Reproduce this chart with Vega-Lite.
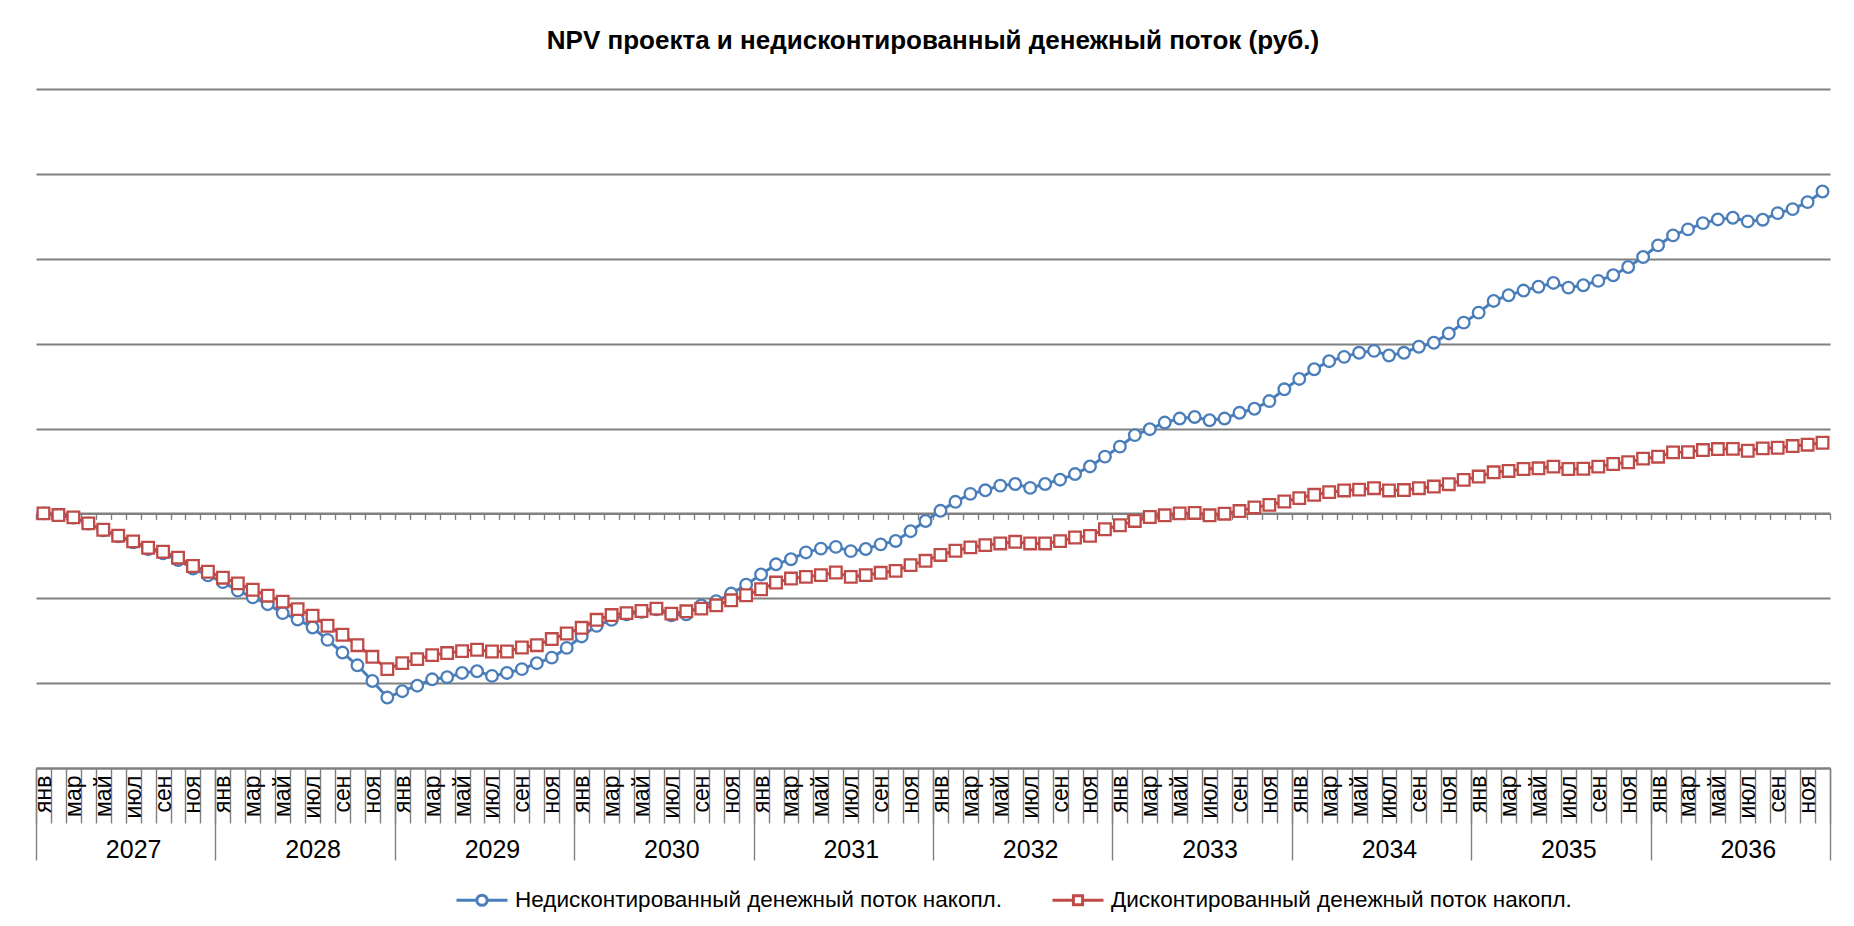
{
  "$schema": "https://vega.github.io/schema/vega-lite/v6.json",
  "width": 1794,
  "height": 679,
  "autosize": {"type": "none"},
  "padding": {"left": 36, "top": 89, "right": 24, "bottom": 158},
  "background": "white",
  "config": {"view": {"stroke": null}, "font": "Liberation Sans"},
  "title": {"text": "NPV проекта и недисконтированный денежный поток (руб.)", "fontSize": 26, "fontWeight": "bold", "font": "Liberation Sans", "color": "#000000", "anchor": "middle", "baseline": "alphabetic", "offset": 14},
  "data": {"values": [
    {"k":"2027-01","u":0,"d":0},
    {"k":"2027-02","u":-0.02,"d":-0.02},
    {"k":"2027-03","u":-0.05,"d":-0.047},
    {"k":"2027-04","u":-0.12,"d":-0.118},
    {"k":"2027-05","u":-0.2,"d":-0.193},
    {"k":"2027-06","u":-0.27,"d":-0.263},
    {"k":"2027-07","u":-0.34,"d":-0.33},
    {"k":"2027-08","u":-0.42,"d":-0.405},
    {"k":"2027-09","u":-0.47,"d":-0.452},
    {"k":"2027-10","u":-0.55,"d":-0.522},
    {"k":"2027-11","u":-0.65,"d":-0.62},
    {"k":"2027-12","u":-0.73,"d":-0.688},
    {"k":"2028-01","u":-0.81,"d":-0.758},
    {"k":"2028-02","u":-0.91,"d":-0.825},
    {"k":"2028-03","u":-0.99,"d":-0.9},
    {"k":"2028-04","u":-1.07,"d":-0.97},
    {"k":"2028-05","u":-1.175,"d":-1.04},
    {"k":"2028-06","u":-1.25,"d":-1.128},
    {"k":"2028-07","u":-1.345,"d":-1.206},
    {"k":"2028-08","u":-1.49,"d":-1.324},
    {"k":"2028-09","u":-1.64,"d":-1.43},
    {"k":"2028-10","u":-1.79,"d":-1.553},
    {"k":"2028-11","u":-1.975,"d":-1.69},
    {"k":"2028-12","u":-2.17,"d":-1.835},
    {"k":"2029-01","u":-2.095,"d":-1.764},
    {"k":"2029-02","u":-2.03,"d":-1.717},
    {"k":"2029-03","u":-1.955,"d":-1.67},
    {"k":"2029-04","u":-1.93,"d":-1.646},
    {"k":"2029-05","u":-1.88,"d":-1.623},
    {"k":"2029-06","u":-1.86,"d":-1.607},
    {"k":"2029-07","u":-1.915,"d":-1.627},
    {"k":"2029-08","u":-1.88,"d":-1.627},
    {"k":"2029-09","u":-1.835,"d":-1.58},
    {"k":"2029-10","u":-1.765,"d":-1.553},
    {"k":"2029-11","u":-1.7,"d":-1.481},
    {"k":"2029-12","u":-1.585,"d":-1.415},
    {"k":"2030-01","u":-1.45,"d":-1.348},
    {"k":"2030-02","u":-1.325,"d":-1.254},
    {"k":"2030-03","u":-1.255,"d":-1.198},
    {"k":"2030-04","u":-1.19,"d":-1.175},
    {"k":"2030-05","u":-1.16,"d":-1.15},
    {"k":"2030-06","u":-1.13,"d":-1.122},
    {"k":"2030-07","u":-1.2,"d":-1.181},
    {"k":"2030-08","u":-1.19,"d":-1.154},
    {"k":"2030-09","u":-1.085,"d":-1.122},
    {"k":"2030-10","u":-1.035,"d":-1.083},
    {"k":"2030-11","u":-0.945,"d":-1.024},
    {"k":"2030-12","u":-0.84,"d":-0.965},
    {"k":"2031-01","u":-0.72,"d":-0.894},
    {"k":"2031-02","u":-0.6,"d":-0.815},
    {"k":"2031-03","u":-0.54,"d":-0.768},
    {"k":"2031-04","u":-0.46,"d":-0.748},
    {"k":"2031-05","u":-0.415,"d":-0.728},
    {"k":"2031-06","u":-0.395,"d":-0.697},
    {"k":"2031-07","u":-0.445,"d":-0.748},
    {"k":"2031-08","u":-0.42,"d":-0.728},
    {"k":"2031-09","u":-0.365,"d":-0.7},
    {"k":"2031-10","u":-0.325,"d":-0.677},
    {"k":"2031-11","u":-0.21,"d":-0.61},
    {"k":"2031-12","u":-0.09,"d":-0.559},
    {"k":"2032-01","u":0.03,"d":-0.49},
    {"k":"2032-02","u":0.136,"d":-0.44},
    {"k":"2032-03","u":0.23,"d":-0.401},
    {"k":"2032-04","u":0.272,"d":-0.374},
    {"k":"2032-05","u":0.327,"d":-0.354},
    {"k":"2032-06","u":0.346,"d":-0.335},
    {"k":"2032-07","u":0.3,"d":-0.354},
    {"k":"2032-08","u":0.346,"d":-0.354},
    {"k":"2032-09","u":0.397,"d":-0.327},
    {"k":"2032-10","u":0.463,"d":-0.284},
    {"k":"2032-11","u":0.553,"d":-0.265},
    {"k":"2032-12","u":0.669,"d":-0.187},
    {"k":"2033-01","u":0.786,"d":-0.14},
    {"k":"2033-02","u":0.922,"d":-0.089},
    {"k":"2033-03","u":0.992,"d":-0.043},
    {"k":"2033-04","u":1.07,"d":-0.023},
    {"k":"2033-05","u":1.117,"d":0.0},
    {"k":"2033-06","u":1.136,"d":0.005},
    {"k":"2033-07","u":1.097,"d":-0.023},
    {"k":"2033-08","u":1.117,"d":-0.004},
    {"k":"2033-09","u":1.185,"d":0.027},
    {"k":"2033-10","u":1.233,"d":0.07},
    {"k":"2033-11","u":1.323,"d":0.1},
    {"k":"2033-12","u":1.462,"d":0.14},
    {"k":"2034-01","u":1.584,"d":0.18},
    {"k":"2034-02","u":1.698,"d":0.219},
    {"k":"2034-03","u":1.793,"d":0.25},
    {"k":"2034-04","u":1.844,"d":0.27},
    {"k":"2034-05","u":1.892,"d":0.28},
    {"k":"2034-06","u":1.915,"d":0.297},
    {"k":"2034-07","u":1.86,"d":0.27},
    {"k":"2034-08","u":1.892,"d":0.275},
    {"k":"2034-09","u":1.963,"d":0.297},
    {"k":"2034-10","u":2.01,"d":0.316},
    {"k":"2034-11","u":2.12,"d":0.344},
    {"k":"2034-12","u":2.247,"d":0.395},
    {"k":"2035-01","u":2.365,"d":0.434},
    {"k":"2035-02","u":2.503,"d":0.484},
    {"k":"2035-03","u":2.57,"d":0.5},
    {"k":"2035-04","u":2.625,"d":0.523},
    {"k":"2035-05","u":2.67,"d":0.531},
    {"k":"2035-06","u":2.715,"d":0.551},
    {"k":"2035-07","u":2.66,"d":0.523},
    {"k":"2035-08","u":2.688,"d":0.526},
    {"k":"2035-09","u":2.739,"d":0.551},
    {"k":"2035-10","u":2.806,"d":0.582},
    {"k":"2035-11","u":2.903,"d":0.602},
    {"k":"2035-12","u":3.021,"d":0.645},
    {"k":"2036-01","u":3.158,"d":0.668},
    {"k":"2036-02","u":3.275,"d":0.719},
    {"k":"2036-03","u":3.346,"d":0.722},
    {"k":"2036-04","u":3.42,"d":0.746},
    {"k":"2036-05","u":3.463,"d":0.758},
    {"k":"2036-06","u":3.483,"d":0.76},
    {"k":"2036-07","u":3.44,"d":0.738},
    {"k":"2036-08","u":3.46,"d":0.766},
    {"k":"2036-09","u":3.538,"d":0.773},
    {"k":"2036-10","u":3.585,"d":0.793},
    {"k":"2036-11","u":3.667,"d":0.809},
    {"k":"2036-12","u":3.792,"d":0.832}
  ]},
  "transform": [{"fold": ["u", "d"], "as": ["s", "v"]}],
  "encoding": {
    "y": {"field": "v", "type": "quantitative",
      "scale": {"domain": [-3, 5], "nice": false, "zero": false},
      "axis": {"values": [-3, -2, -1, 0, 1, 2, 3, 4, 5], "grid": true, "gridColor": "#808080", "gridWidth": 2, "labels": false, "ticks": false, "domain": false, "title": null}}
  },
  "layer": [
    {
      "mark": {"type": "line", "strokeWidth": 3},
      "encoding": {
        "x": {"field": "k", "type": "ordinal",
          "scale": {"type": "band", "paddingInner": 0, "paddingOuter": 0},
          "axis": {"orient": "bottom", "title": null, "grid": false, "domain": true, "domainColor": "#808080", "domainWidth": 2,
            "tickBand": "extent", "ticks": true, "tickSize": 55, "tickColor": "#808080", "tickWidth": 1.4,
            "labelAngle": 270, "labelAlign": "right", "labelBaseline": "middle", "labelPadding": -48,
            "labelFontSize": 23, "labelFont": "Liberation Sans", "labelColor": "#000000", "labelOverlap": false,
            "labelExpr": "datum.extra ? '' : ['янв','','мар','','май','','июл','','сен','','ноя',''][toNumber(substring(datum.value,5,7))-1]"}},
        "color": {"field": "s", "type": "nominal", "scale": {"domain": ["u", "d"], "range": ["#4A7EBB", "#BE4B48"]}, "legend": null}
      }
    },
    {
      "mark": {"type": "point", "filled": true, "fill": "white", "strokeWidth": 2.3, "size": 135, "opacity": 1},
      "encoding": {
        "x": {"field": "k", "type": "ordinal",
          "scale": {"type": "band", "paddingInner": 0, "paddingOuter": 0},
          "axis": {"orient": "bottom", "title": null, "grid": false, "domain": false,
            "tickBand": "extent", "ticks": true, "tickSize": 92, "tickColor": "#808080", "tickWidth": 1.4,
            "tickOpacity": {"condition": {"test": "datum.extra || substring(datum.value,5,7)=='12'", "value": 1}, "value": 0},
            "labelAngle": 0, "labelAlign": "center", "labelBaseline": "middle", "labelPadding": -11, "labelDx": -7.475,
            "labelFontSize": 25, "labelFont": "Liberation Sans", "labelColor": "#000000", "labelOverlap": false,
            "labelExpr": "datum.extra ? '' : (substring(datum.value,5,7)=='07' ? substring(datum.value,0,4) : '')"}},
        "stroke": {"field": "s", "type": "nominal", "scale": {"domain": ["u", "d"], "range": ["#4A7EBB", "#BE4B48"]}, "legend": null},
        "shape": {"field": "s", "type": "nominal", "scale": {"domain": ["u", "d"], "range": ["circle", "square"]}, "legend": null},
        "order": {"field": "s", "sort": "descending"}
      }
    },
    {
      "mark": {"type": "point", "filled": true, "fill": "white", "strokeWidth": 3, "opacity": 0},
      "encoding": {
        "x": {"field": "k", "type": "ordinal",
          "scale": {"type": "band", "paddingInner": 0, "paddingOuter": 0},
          "axis": {"orient": "bottom", "offset": -254.625, "title": null, "grid": false, "labels": false,
            "domain": true, "domainColor": "#808080", "domainWidth": 2,
            "tickBand": "extent", "ticks": true, "tickSize": 6, "tickColor": "#808080", "tickWidth": 1.4}},
        "stroke": {"field": "s", "type": "nominal", "scale": {"domain": ["u", "d"], "range": ["#4A7EBB", "#BE4B48"]},
          "legend": {"orient": "none", "legendX": 419, "legendY": 784, "direction": "horizontal", "title": null, "padding": 0,
            "labelExpr": "datum.value == 'u' ? 'Недисконтированный денежный поток накопл.' : 'Дисконтированный денежный поток накопл.'",
            "labelFontSize": 22.5, "labelFont": "Liberation Sans", "labelColor": "#000000", "labelLimit": 900, "labelOffset": 6,
            "symbolSize": 2601, "symbolStrokeWidth": 3, "columnPadding": 44, "symbolOpacity": 1, "symbolFillColor": "white",
            "encode": {"symbols": {"update": {"opacity": {"value": 1}, "fill": {"value": "white"}, "strokeWidth": {"value": 3}}}}}},
        "shape": {"field": "s", "type": "nominal",
          "scale": {"domain": ["u", "d"], "range": ["M-1,0H-0.2M0.2,0H1M-0.2,0A0.2,0.2 0 1,1 0.2,0A0.2,0.2 0 1,1 -0.2,0Z", "M-1,0H-0.18M0.18,0H1M-0.18,-0.18H0.18V0.18H-0.18Z"]},
          "legend": {"orient": "none", "legendX": 419, "legendY": 784, "direction": "horizontal", "title": null, "padding": 0,
            "labelExpr": "datum.value == 'u' ? 'Недисконтированный денежный поток накопл.' : 'Дисконтированный денежный поток накопл.'",
            "labelFontSize": 22.5, "labelFont": "Liberation Sans", "labelColor": "#000000", "labelLimit": 900, "labelOffset": 6,
            "symbolSize": 2601, "symbolStrokeWidth": 3, "columnPadding": 44, "symbolOpacity": 1, "symbolFillColor": "white",
            "encode": {"symbols": {"update": {"opacity": {"value": 1}, "fill": {"value": "white"}, "strokeWidth": {"value": 3}}}}}}
      }
    }
  ],
  "resolve": {"axis": {"x": "independent"}, "scale": {"shape": "independent", "stroke": "independent"}}
}
